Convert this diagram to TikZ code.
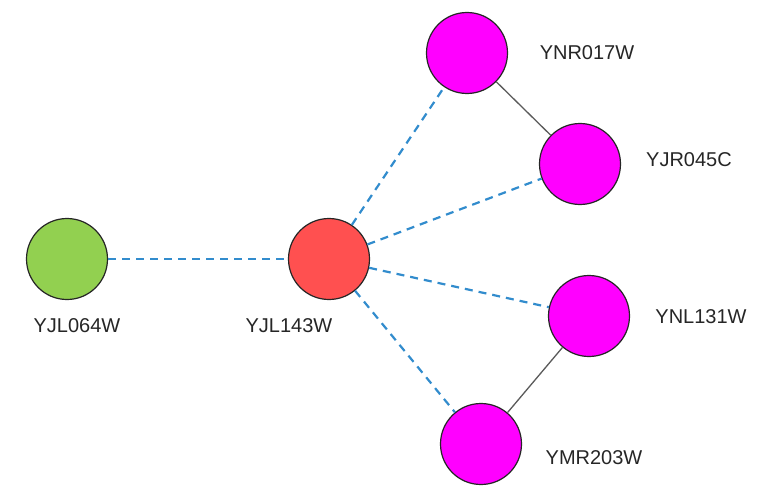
\documentclass[tikz,border=0pt]{standalone}
\usepackage{fontspec}
\setmainfont{Liberation Sans}
\usepackage{tikz}

\definecolor{protgreen}{RGB}{146,208,80}
\definecolor{protred}{RGB}{255,80,80}
\definecolor{protpink}{RGB}{255,0,255}
\definecolor{linkblue}{RGB}{50,140,205}
\definecolor{linkgray}{RGB}{90,90,90}

\begin{document}
\begin{tikzpicture}[x=1pt,y=-1pt]
        \tikzset{prot/.style={circle, draw=black!85, line width=1.2pt, minimum size=81pt, inner sep=0pt},
                 lab/.style={font=\fontsize{20}{20}\selectfont, text=black!85},
                 pred/.style={linkblue, line width=2.2pt, dash pattern=on 8pt off 6pt},
                 known/.style={linkgray, line width=1.3pt}}
        \useasboundingbox (0,0) rectangle (781,500);

        \node [prot, fill=protgreen] (YJL064W) at (67,259) {};
        \node [lab] (lYJL064W) at (77,326) {YJL064W};
        \node [prot, fill=protred] (YJL143W) at (329,259) {};
        \node [lab] (lYJL143W) at (289,326) {YJL143W};
        \node [prot, fill=protpink] (YNR017W) at (467,53) {};
        \node [lab] (lYNR017W) at (587,53) {YNR017W};
        \node [prot, fill=protpink] (YJR045C) at (580,164) {};
        \node [lab] (lYJR045C) at (689,160) {YJR045C};
        \node [prot, fill=protpink] (YNL131W) at (589,316) {};
        \node [lab] (lYNL131W) at (701,317) {YNL131W};
        \node [prot, fill=protpink] (YMR203W) at (481,444) {};
        \node [lab] (lYMR203W) at (594,458) {YMR203W};

        \draw [pred] (YJL064W)--(YJL143W);
        \draw [pred] (YJL143W)--(YNR017W);
        \draw [pred] (YJL143W)--(YJR045C);
        \draw [pred] (YJL143W)--(YNL131W);
        \draw [pred] (YJL143W)--(YMR203W);
        \draw [known] (YNR017W)--(YJR045C);
        \draw [known] (YNL131W)--(YMR203W);
    \end{tikzpicture}
\end{document}
